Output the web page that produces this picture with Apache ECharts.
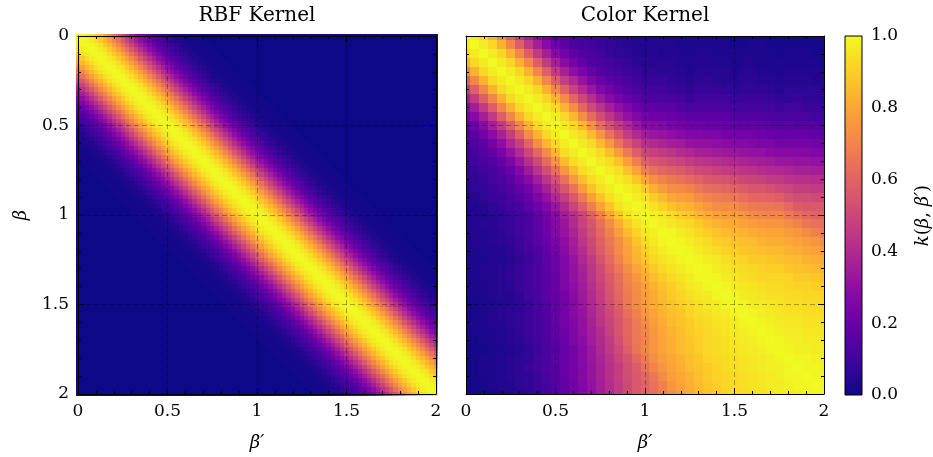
<!DOCTYPE html>
<html>
<head>
<meta charset="utf-8">
<script src="https://cdn.jsdelivr.net/npm/echarts@6/dist/echarts.min.js"></script>
<style>
  html, body { margin: 0; padding: 0; background: #fff; }
  #chart { width: 933px; height: 457px; }
</style>
</head>
<body>
<div id="chart"></div>
<script>
// Axis ranges and tick spacing
const betaMin = 0, betaMax = 2, betaTickStep = 0.5;
const kMin = 0, kMax = 1, kTickStep = 0.2;

// RBF kernel value (%) as a function of the lag |β − β′| (lag step 0.025)
const rbfLagStep = 0.025;
const rbfByLag = [100, 99, 97, 94, 89, 84, 78, 71, 64, 56, 49, 42, 36, 30, 25, 20, 16, 13, 10, 8, 6, 4, 3, 2, 2, 1, 1, 1, 0];

// Color kernel value (%) on a 0.05 grid.
// Row i is β = 0.05·i; its entries are β′ = 0, 0.05, …, β (the kernel is symmetric).
const colorStep = 0.05;
const colorLower = [
  [100],
  [97, 100],
  [92, 97, 100],
  [83, 92, 97, 100],
  [71, 83, 92, 97, 100],
  [58, 71, 83, 92, 97, 100],
  [46, 58, 71, 83, 92, 97, 100],
  [36, 46, 58, 71, 83, 92, 97, 100],
  [28, 36, 46, 58, 71, 83, 92, 97, 100],
  [21, 28, 36, 46, 58, 71, 83, 92, 97, 100],
  [15, 21, 28, 36, 46, 58, 71, 83, 92, 97, 100],
  [13, 16, 22, 29, 37, 47, 59, 72, 83, 92, 97, 100],
  [11, 13, 17, 23, 30, 39, 48, 60, 73, 84, 92, 97, 100],
  [9, 11, 14, 18, 24, 32, 40, 50, 61, 73, 84, 93, 97, 100],
  [8, 10, 12, 14, 19, 25, 33, 42, 51, 62, 74, 85, 93, 97, 100],
  [7, 8, 10, 12, 15, 20, 26, 34, 43, 52, 63, 75, 85, 93, 97, 100],
  [6, 7, 8, 11, 13, 16, 22, 28, 36, 44, 53, 64, 76, 86, 93, 97, 100],
  [5, 6, 7, 9, 11, 14, 18, 23, 30, 37, 46, 55, 65, 77, 87, 94, 97, 100],
  [4, 5, 6, 8, 9, 12, 15, 19, 25, 31, 39, 47, 56, 67, 78, 87, 94, 98, 100],
  [4, 4, 5, 6, 8, 10, 12, 16, 21, 26, 33, 40, 49, 58, 68, 79, 88, 95, 98, 100],
  [3, 4, 4, 5, 6, 8, 10, 13, 17, 22, 28, 35, 42, 50, 59, 69, 80, 89, 95, 98, 100],
  [3, 4, 5, 5, 7, 8, 11, 13, 17, 21, 27, 33, 40, 48, 55, 64, 73, 82, 90, 95, 98, 100],
  [3, 4, 4, 5, 6, 8, 10, 13, 16, 21, 26, 32, 38, 46, 53, 61, 69, 77, 85, 91, 96, 98, 100],
  [3, 4, 4, 5, 6, 7, 9, 12, 16, 20, 24, 30, 36, 44, 51, 59, 66, 73, 80, 87, 93, 96, 99, 100],
  [3, 3, 4, 4, 5, 6, 8, 11, 14, 18, 23, 28, 35, 41, 49, 57, 64, 72, 78, 84, 90, 94, 97, 99, 100],
  [3, 3, 3, 4, 4, 5, 7, 9, 12, 16, 21, 26, 32, 39, 46, 54, 62, 70, 77, 83, 88, 92, 95, 97, 99, 100],
  [3, 3, 4, 4, 5, 6, 8, 10, 13, 16, 21, 26, 31, 37, 44, 51, 59, 66, 73, 79, 84, 89, 92, 95, 97, 99, 100],
  [3, 3, 4, 4, 5, 7, 8, 10, 13, 16, 20, 25, 31, 36, 43, 50, 56, 63, 70, 76, 81, 86, 90, 93, 95, 97, 99, 100],
  [3, 3, 3, 4, 5, 6, 8, 10, 13, 16, 20, 25, 30, 35, 42, 48, 55, 62, 68, 73, 78, 83, 87, 90, 93, 96, 97, 99, 100],
  [2, 3, 3, 4, 5, 5, 7, 10, 12, 16, 19, 23, 29, 34, 40, 47, 54, 61, 67, 72, 77, 81, 85, 89, 91, 94, 96, 97, 99, 100],
  [2, 2, 3, 3, 4, 5, 6, 8, 11, 14, 18, 22, 27, 33, 39, 45, 52, 59, 66, 72, 77, 81, 84, 87, 90, 92, 94, 96, 97, 99, 100],
  [2, 2, 3, 4, 5, 6, 7, 9, 11, 14, 18, 22, 27, 32, 38, 44, 50, 57, 63, 69, 75, 79, 83, 86, 88, 91, 93, 94, 96, 97, 99, 100],
  [2, 3, 3, 4, 5, 6, 7, 9, 11, 14, 18, 22, 26, 31, 37, 43, 49, 55, 61, 67, 72, 77, 81, 85, 87, 89, 92, 93, 95, 96, 97, 99, 100],
  [2, 3, 3, 3, 4, 5, 7, 9, 11, 14, 17, 21, 25, 31, 36, 41, 48, 55, 61, 66, 71, 76, 80, 83, 86, 89, 91, 92, 94, 95, 97, 98, 99, 100],
  [2, 2, 3, 3, 4, 5, 6, 8, 10, 13, 16, 20, 25, 29, 35, 40, 46, 53, 60, 66, 70, 75, 79, 82, 85, 88, 90, 92, 93, 94, 96, 97, 98, 99, 100],
  [2, 2, 2, 3, 3, 4, 5, 7, 9, 12, 15, 19, 23, 28, 33, 39, 45, 51, 58, 65, 71, 75, 79, 82, 85, 87, 90, 92, 93, 94, 95, 96, 97, 98, 99, 100],
  [2, 2, 3, 3, 4, 5, 6, 7, 10, 12, 16, 19, 23, 28, 33, 38, 43, 49, 54, 61, 67, 73, 77, 80, 83, 86, 88, 91, 92, 93, 94, 95, 96, 97, 98, 99, 100],
  [2, 2, 3, 3, 4, 5, 6, 8, 10, 13, 15, 19, 23, 27, 32, 37, 42, 47, 52, 57, 64, 70, 75, 79, 82, 85, 87, 89, 91, 93, 94, 95, 96, 97, 98, 98, 99, 100],
  [2, 2, 3, 3, 4, 5, 6, 7, 9, 12, 15, 19, 23, 27, 32, 37, 42, 47, 52, 56, 61, 66, 72, 77, 80, 83, 86, 89, 91, 92, 93, 94, 95, 96, 97, 98, 99, 99, 100],
  [2, 2, 2, 3, 4, 4, 6, 7, 9, 11, 15, 18, 22, 26, 31, 36, 41, 46, 51, 56, 59, 64, 69, 75, 79, 82, 85, 88, 90, 92, 93, 94, 95, 96, 97, 97, 98, 99, 99, 100],
  [2, 2, 2, 2, 3, 4, 5, 6, 8, 10, 13, 17, 21, 25, 30, 35, 40, 46, 51, 56, 60, 63, 67, 72, 77, 81, 84, 86, 89, 91, 93, 93, 94, 95, 96, 97, 97, 98, 99, 99, 100]
];

// Plasma colour map, evenly spaced stops from 0 to 1
const plasma = ['#0d0887', '#41049d', '#6a00a8', '#8f0da4', '#b12a90', '#cc4778',
                '#e16462', '#f2844b', '#fca636', '#fcce25', '#f0f921'];

const FONT = 'DejaVu Serif';

// [β′, β, value] rows for the RBF panel
function rbfTable() {
  const n = Math.round((betaMax - betaMin) / rbfLagStep);
  const rows = [];
  for (let i = 0; i <= n; i++) {
    for (let j = 0; j <= n; j++) {
      const v = rbfByLag[Math.abs(i - j)];
      rows.push([betaMin + j * rbfLagStep, betaMin + i * rbfLagStep, v === undefined ? 0 : v]);
    }
  }
  return rows;
}

// [β′, β, value] rows for the colour-kernel panel, mirrored across the diagonal
function colorTable() {
  const n = colorLower.length - 1;
  const rows = [];
  for (let i = 0; i <= n; i++) {
    for (let j = 0; j <= n; j++) {
      const v = i >= j ? colorLower[i][j] : colorLower[j][i];
      rows.push([betaMin + j * colorStep, betaMin + i * colorStep, v]);
    }
  }
  return rows;
}

// One filled cell centred on its grid node, snapped to whole pixels so cells tile without seams
function cellRenderer(step) {
  return function (params, api) {
    const x = api.value(0), y = api.value(1);
    const a = api.coord([x - step / 2, y - step / 2]);
    const b = api.coord([x + step / 2, y + step / 2]);
    const x0 = Math.round(Math.min(a[0], b[0])), x1 = Math.round(Math.max(a[0], b[0]));
    const y0 = Math.round(Math.min(a[1], b[1])), y1 = Math.round(Math.max(a[1], b[1]));
    return {
      type: 'rect',
      shape: { x: x0, y: y0, width: x1 - x0, height: y1 - y0 },
      style: { fill: api.visual('color') }
    };
  };
}

const tickLine = { color: '#000', width: 1 };
const gridDash = { color: 'rgba(0,0,0,0.32)', width: 1, type: [5, 3] };

function betaAxis(gridIndex, position, withLabels, withSplit, extra) {
  const vertical = position === 'left' || position === 'right';
  return Object.assign({
    type: 'value',
    gridIndex: gridIndex,
    position: position,
    min: betaMin,
    max: betaMax,
    interval: betaTickStep,
    inverse: vertical,
    z: 10,
    axisLine: { show: true, onZero: false, lineStyle: { color: '#000', width: 1 } },
    axisTick: { show: true, inside: true, length: 6, lineStyle: tickLine },
    minorTick: { show: true, splitNumber: 5, length: 3, lineStyle: tickLine },
    axisLabel: { show: withLabels, color: '#000', fontFamily: FONT, fontSize: 17, margin: 9 },
    splitLine: { show: withSplit, lineStyle: gridDash },
    minorSplitLine: { show: false }
  }, extra || {});
}

const betaPrimeName = {
  name: 'β′',
  nameLocation: 'middle',
  nameGap: 40,
  nameTextStyle: { fontFamily: FONT, fontStyle: 'italic', fontSize: 18, color: '#000' }
};

const grids = [
  { left: 78, top: 36, width: 358, height: 359 },
  { left: 466, top: 36, width: 358, height: 359 },
  { left: 845, top: 36, width: 18, height: 359 }
];

const option = {
  animation: false,
  backgroundColor: '#fff',
  textStyle: { fontFamily: FONT },
  grid: grids,
  visualMap: {
    type: 'continuous',
    show: false,
    min: 0,
    max: 100,
    dimension: 2,
    seriesIndex: [0, 1],
    inRange: { color: plasma }
  },
  graphic: [
    { type: 'text', x: 257, y: 16, style: { text: 'RBF Kernel', font: '20px "DejaVu Serif"', fill: '#000', align: 'center', verticalAlign: 'middle' } },
    { type: 'text', x: 645, y: 16, style: { text: 'Color Kernel', font: '20px "DejaVu Serif"', fill: '#000', align: 'center', verticalAlign: 'middle' } }
  ],
  xAxis: [
    betaAxis(0, 'bottom', true, true, betaPrimeName),
    betaAxis(0, 'top', false, false),
    betaAxis(1, 'bottom', true, true, betaPrimeName),
    betaAxis(1, 'top', false, false),
    { type: 'value', gridIndex: 2, min: 0, max: 1, show: false }
  ],
  yAxis: [
    betaAxis(0, 'left', true, true, {
      name: 'β',
      nameLocation: 'middle',
      nameGap: 48,
      nameTextStyle: { fontFamily: FONT, fontStyle: 'italic', fontSize: 18, color: '#000' }
    }),
    betaAxis(0, 'right', false, false),
    betaAxis(1, 'left', false, true),
    betaAxis(1, 'right', false, false),
    {
      type: 'value',
      gridIndex: 2,
      position: 'right',
      min: kMin,
      max: kMax,
      interval: kTickStep,
      z: 10,
      axisLine: { show: false },
      axisTick: { show: false },
      splitLine: { show: false },
      axisLabel: {
        show: true, color: '#000', fontFamily: FONT, fontSize: 17, margin: 9,
        formatter: function (v) { return v.toFixed(1); }
      },
      name: '{i|k}({i|β}, {i|β′})',
      nameLocation: 'middle',
      nameGap: 52,
      nameTextStyle: {
        fontFamily: FONT, fontSize: 18, color: '#000',
        rich: { i: { fontFamily: FONT, fontStyle: 'italic', fontSize: 18, color: '#000' } }
      }
    }
  ],
  series: [
    {
      type: 'custom',
      name: 'RBF Kernel',
      xAxisIndex: 0,
      yAxisIndex: 0,
      clip: true,
      encode: { x: 0, y: 1 },
      data: rbfTable(),
      renderItem: cellRenderer(rbfLagStep)
    },
    {
      type: 'custom',
      name: 'Color Kernel',
      xAxisIndex: 2,
      yAxisIndex: 2,
      clip: true,
      encode: { x: 0, y: 1 },
      data: colorTable(),
      renderItem: cellRenderer(colorStep)
    },
    {
      type: 'custom',
      name: 'colorbar',
      xAxisIndex: 4,
      yAxisIndex: 4,
      encode: { x: 0, y: 1 },
      data: [[0, kMin]],
      renderItem: function (params, api) {
        const a = api.coord([0, kMax]);
        const b = api.coord([1, kMin]);
        return {
          type: 'rect',
          shape: { x: a[0], y: a[1], width: b[0] - a[0], height: b[1] - a[1] },
          style: {
            fill: new echarts.graphic.LinearGradient(0, 1, 0, 0,
              plasma.map(function (c, i) { return { offset: i / (plasma.length - 1), color: c }; })),
            stroke: '#000',
            lineWidth: 1
          }
        };
      }
    }
  ]
};

const chart = echarts.init(document.getElementById('chart'), null, { renderer: 'canvas' });
chart.setOption(option);
</script>
</body>
</html>
